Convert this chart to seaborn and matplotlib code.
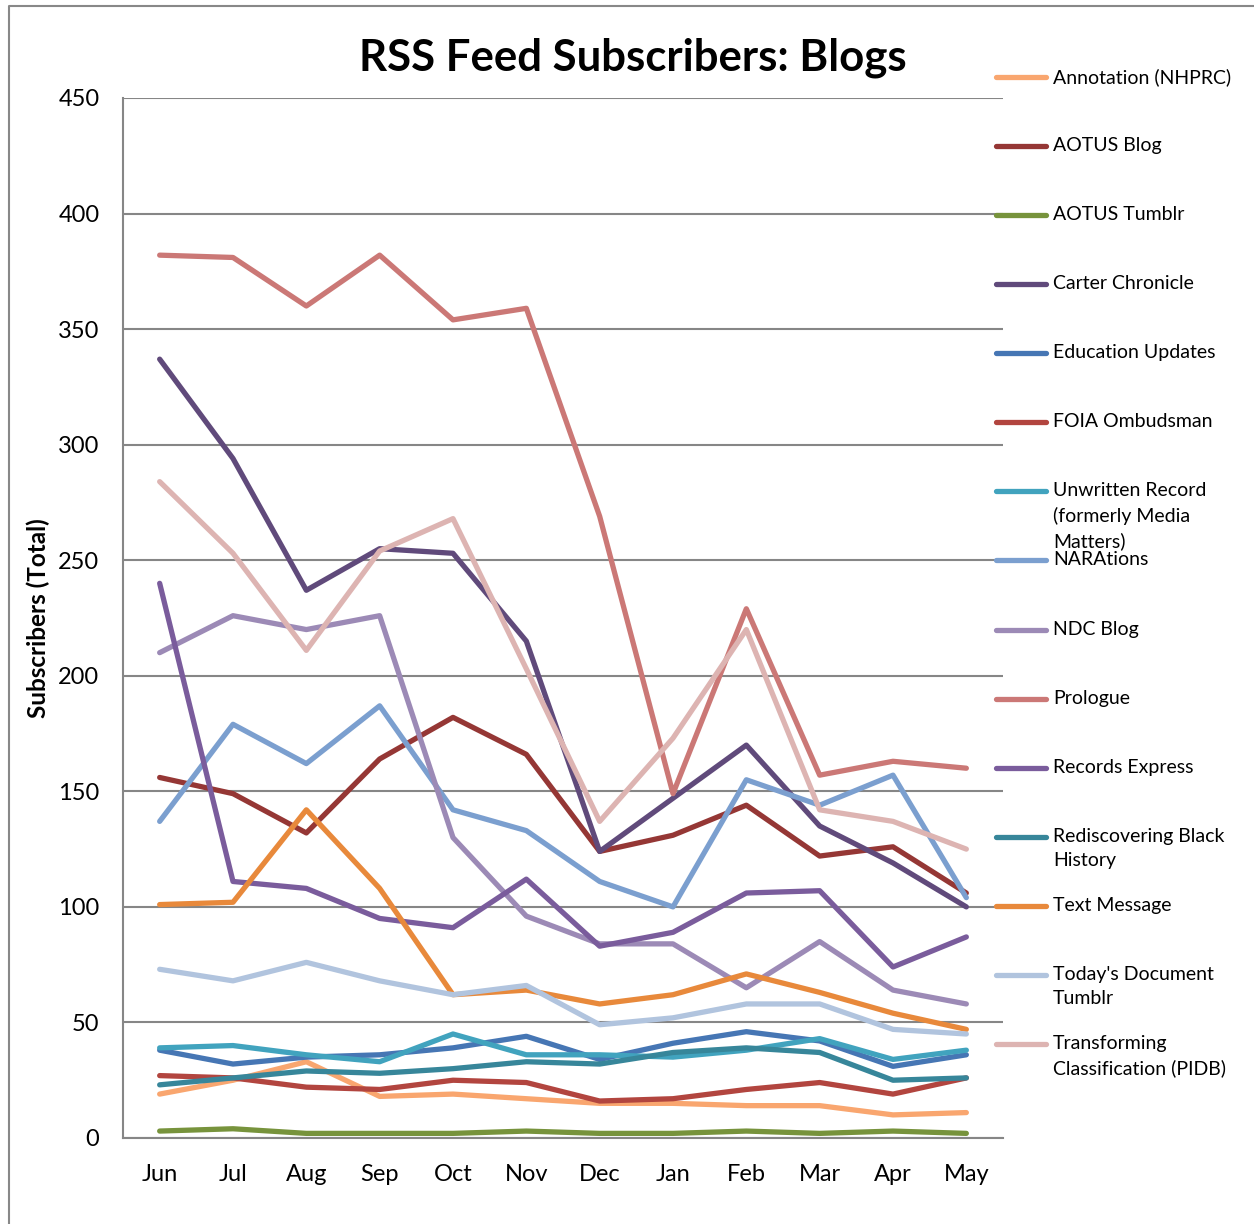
# RSS feed subscribers for the blogs, one line per blog, Jun to May
import numpy as np
import pandas as pd
import matplotlib.pyplot as plt
from matplotlib.lines import Line2D
import seaborn as sns

months = ["Jun", "Jul", "Aug", "Sep", "Oct", "Nov", "Dec", "Jan", "Feb", "Mar", "Apr", "May"]

annotation = [19, 25, 33, 18, 19, 17, 15, 15, 14, 14, 10, 11]
aotus_blog = [156, 149, 132, 164, 182, 166, 124, 131, 144, 122, 126, 106]
aotus_tumblr = [3, 4, 2, 2, 2, 3, 2, 2, 3, 2, 3, 2]
carter = [337, 294, 237, 255, 253, 215, 124, 147, 170, 135, 119, 100]
education = [38, 32, 35, 36, 39, 44, 34, 41, 46, 42, 31, 36]
foia = [27, 26, 22, 21, 25, 24, 16, 17, 21, 24, 19, 26]
unwritten = [39, 40, 36, 33, 45, 36, 36, 35, 38, 43, 34, 38]
narations = [137, 179, 162, 187, 142, 133, 111, 100, 155, 144, 157, 104]
ndc_blog = [210, 226, 220, 226, 130, 96, 84, 84, 65, 85, 64, 58]
prologue = [382, 381, 360, 382, 354, 359, 269, 149, 229, 157, 163, 160]
records_express = [240, 111, 108, 95, 91, 112, 83, 89, 106, 107, 74, 87]
rediscovering = [23, 26, 29, 28, 30, 33, 32, 37, 39, 37, 25, 26]
text_message = [101, 102, 142, 108, 62, 64, 58, 62, 71, 63, 54, 47]
todays_doc = [73, 68, 76, 68, 62, 66, 49, 52, 58, 58, 47, 45]
transforming = [284, 253, 211, 254, 268, 203, 137, 173, 220, 142, 137, 125]

blogs = ["Annotation (NHPRC)", "AOTUS Blog", "AOTUS Tumblr", "Carter Chronicle",
         "Education Updates", "FOIA Ombudsman",
         "Unwritten Record\n(formerly Media\nMatters)", "NARAtions", "NDC Blog",
         "Prologue", "Records Express", "Rediscovering Black\nHistory", "Text Message",
         "Today's Document\nTumblr", "Transforming\nClassification (PIDB)"]
values = [annotation, aotus_blog, aotus_tumblr, carter, education, foia, unwritten,
          narations, ndc_blog, prologue, records_express, rediscovering, text_message,
          todays_doc, transforming]
colors = ["#F9A66F", "#953735", "#77933C", "#604A7B", "#4676B4", "#B2453F",
          "#41A3BE", "#7B9FCF", "#9C8AB6", "#CB7876", "#7A5C9C", "#37869A",
          "#E8893B", "#B1C4DE", "#DDB4B2"]

# long table for seaborn
rows = []
for name, vals in zip(blogs, values):
    for i, v in enumerate(vals):
        rows.append({"blog": name, "x": i, "subs": v})
df = pd.DataFrame(rows)

sns.set_style("white")
plt.rcParams['font.family'] = ['Lato', 'DejaVu Sans']
plt.rcParams['text.color'] = 'black'

fig = plt.figure(figsize=(12.54, 12.24), dpi=100)
W, H = 1254, 1224
ax = fig.add_axes([123 / W, 1 - 1138 / H, 880 / W, 1040 / H])

sns.lineplot(data=df, x="x", y="subs", hue="blog", hue_order=blogs,
             palette=dict(zip(blogs, colors)), linewidth=3.8, legend=False,
             estimator=None, sort=False, ax=ax, solid_capstyle="round")

ax.set_xlim(-0.5, 11.5)
ax.set_ylim(0, 450)
ax.set_yticks(np.arange(0, 451, 50))
ax.set_xticks(range(len(months)))
ax.set_xticklabels(months)
ax.tick_params(axis="both", length=0, labelsize=17, colors="black")
ax.tick_params(axis="x", pad=19)
ax.tick_params(axis="y", pad=17)
ax.yaxis.grid(True, color="#868686", linewidth=1.5)
ax.set_axisbelow(True)
for side in ["top", "right"]:
    ax.spines[side].set_visible(False)
for side in ["left", "bottom"]:
    ax.spines[side].set_color("#868686")
    ax.spines[side].set_linewidth(1.5)
ax.set_xlabel("")
ax.set_ylabel("Subscribers (Total)", fontsize=17.5, fontweight="bold", labelpad=6,
              color="black")

fig.text(633 / W, 1 - 58 / H, "RSS Feed Subscribers: Blogs", ha="center", va="center",
         fontsize=31.5, fontweight="bold", color="black")

# legend, drawn in figure pixels like the Excel one
for i, (name, c) in enumerate(zip(blogs, colors)):
    y = 1 - (77 + 69.07 * i) / H
    fig.add_artist(Line2D([996 / W, 1046 / W], [y, y], color=c, linewidth=3.8,
                          solid_capstyle="round"))
    fig.text(1053 / W, y + 9 / H, name, ha="left", va="top", fontsize=14,
             linespacing=1.5, color="black")

# chart area border
fig.add_artist(Line2D([9 / W, 9 / W, 1.0], [0.0, 1 - 6 / H, 1 - 6 / H],
                      color="#888888", linewidth=1.5))

fig.savefig("out.png", dpi=100)
